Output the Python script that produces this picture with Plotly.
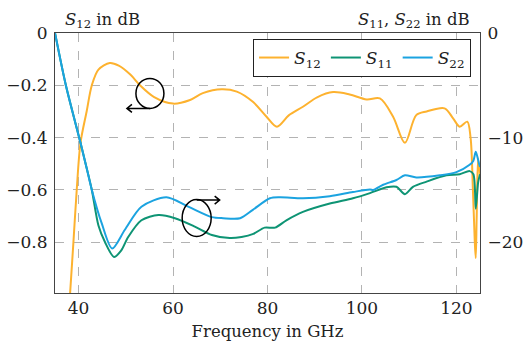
import plotly.graph_objects as go

# ---- data ----
freq_s12 = [38.0, 38.9, 39.6, 40.4, 41.7, 42.8, 44.2, 46.6, 48.5, 51.0, 53.0, 56.0, 60.0, 63.6,
            66.3, 70.3, 73.5, 76.9, 79.8, 82.0, 84.5, 87.5, 90.5, 93.9, 97.4, 101.0, 103.8,
            106.6, 109.1, 111.5, 113.7, 117.5, 119.3, 120.7, 122.3, 123.0, 123.5, 123.9,
            124.1, 124.3, 124.6, 125.0]
s12 = [-1.05, -0.8, -0.6, -0.42, -0.30, -0.20, -0.14, -0.115, -0.125, -0.16, -0.2, -0.245,
       -0.27, -0.256, -0.23, -0.215, -0.224, -0.263, -0.32, -0.358, -0.315, -0.282, -0.246,
       -0.226, -0.235, -0.254, -0.25, -0.32, -0.42, -0.314, -0.30, -0.288, -0.326, -0.358,
       -0.339, -0.40, -0.6, -0.8, -0.86, -0.7, -0.48, -0.55]

freq_s11 = [35.0, 37.3, 40.4, 41.7, 42.8, 44.2, 45.6, 47.5, 49.0, 50.5, 53.3, 56.9, 60.4, 64.6,
            68.2, 72.0, 74.5, 77.0, 79.4, 81.6, 84.0, 87.5, 93.2, 98.1, 101.7, 105.2, 107.3,
            109.1, 110.8, 113.7, 117.9, 120.7, 122.8, 123.6, 124.1, 124.6, 125.0]
s11 = [0.0, -5.0, -10.5, -12.9, -15.0, -18.4, -20.0, -21.4, -20.8, -19.5, -17.9, -17.4, -17.7,
       -18.5, -19.3, -19.6, -19.5, -19.2, -18.6, -18.6, -17.9, -17.1, -16.3, -15.8, -15.3,
       -14.75, -14.7, -15.4, -14.7, -14.2, -13.6, -13.5, -13.2, -13.5, -16.8, -14.3, -13.5]

freq_s22 = [35.0, 37.3, 40.4, 41.7, 42.8, 44.9, 47.1, 49.8, 53.3, 58.6, 63.2, 68.2, 70.6, 74.2,
            76.9, 80.5, 82.6, 87.5, 93.2, 98.1, 101.7, 102.4, 104.5, 107.3, 109.1, 111.5,
            116.5, 120.0, 122.8, 123.6, 124.1, 124.8, 125.0]
s22 = [0.0, -5.0, -10.5, -12.9, -15.0, -18.2, -20.6, -18.8, -16.6, -15.7, -16.6, -17.6, -17.7,
       -17.7, -16.9, -15.8, -15.7, -15.8, -15.6, -15.2, -14.95, -15.0, -14.5, -14.05, -13.6,
       -13.8, -13.6, -13.3, -12.6, -12.2, -11.35, -12.5, -12.8]

x_ticks = [40, 60, 80, 100, 120]
left_ticks = [0, -0.2, -0.4, -0.6, -0.8]
left_labels = ["0", "\u22120.2", "\u22120.4", "\u22120.6", "\u22120.8"]
right_ticks = [0, -10, -20]
right_labels = ["0", "\u221210", "\u221220"]

ORANGE = "#FDB22F"
GREEN = "#0E9474"
BLUE = "#1BA3E0"
FONT = "DejaVu Serif"

fig = go.Figure()
fig.add_trace(go.Scatter(x=freq_s12, y=s12, mode="lines", name="<i>S</i><sub>12</sub>",
                         line=dict(color=ORANGE, width=2, shape="spline", smoothing=0.9)))
fig.add_trace(go.Scatter(x=freq_s11, y=s11, mode="lines", name="<i>S</i><sub>11</sub>", yaxis="y2",
                         line=dict(color=GREEN, width=2, shape="spline", smoothing=0.8)))
fig.add_trace(go.Scatter(x=freq_s22, y=s22, mode="lines", name="<i>S</i><sub>22</sub>", yaxis="y2",
                         line=dict(color=BLUE, width=2, shape="spline", smoothing=0.8)))

grid = dict(showgrid=True, gridcolor="#b3b3b3", griddash="dash", gridwidth=1)
tickfont = dict(family=FONT, size=17, color="#222")

fig.update_layout(
    template="none",
    width=523, height=346,
    margin=dict(l=55, r=43, t=33, b=53, autoexpand=False),
    paper_bgcolor="white", plot_bgcolor="white",
    font=dict(family=FONT, size=16, color="#222"),
    showlegend=True,
    legend=dict(orientation="h", x=0.979, y=0.977, xanchor="right", yanchor="top",
                bordercolor="#222", borderwidth=1, bgcolor="white",
                font=dict(family=FONT, size=17), itemwidth=30, tracegroupgap=0),
    xaxis=dict(range=[35, 125], tickvals=x_ticks, ticks="", showline=True, linecolor="#444",
               mirror=True, linewidth=1, zeroline=False, tickfont=tickfont, automargin=False,
               title=dict(text="Frequency in GHz", standoff=8, font=dict(family=FONT, size=16.5)), **grid),
    yaxis=dict(range=[-0.994, 0], tickvals=left_ticks, ticktext=left_labels, ticks="",
               ticklabelstandoff=3, automargin=False,
               showline=True, linecolor="#444", linewidth=1, zeroline=False, tickfont=tickfont, **grid),
    yaxis2=dict(range=[-24.85, 0], tickvals=right_ticks, ticktext=right_labels, overlaying="y",
                side="right", ticks="", showline=True, linecolor="#444", linewidth=1,
                ticklabelstandoff=3, automargin=False,
                showgrid=False, zeroline=False, tickfont=tickfont),
)

fig.add_annotation(text="<i>S</i><sub>12</sub> in dB", xref="paper", yref="paper",
                   x=0.019, y=1.0, xanchor="left", yanchor="bottom", showarrow=False,
                   font=dict(family=FONT, size=16.5), yshift=0)
fig.add_annotation(text="<i>S</i><sub>11</sub>, <i>S</i><sub>22</sub> in dB", xref="paper", yref="paper",
                   x=0.98, y=1.0, xanchor="right", yanchor="bottom", showarrow=False,
                   font=dict(family=FONT, size=16.5), yshift=0)

# circle + arrow markers (pixel-sized shapes anchored in data coordinates)
def ring(xa, ya, rx, ry):
    fig.add_shape(type="circle", xref="x", yref="y", xsizemode="pixel", ysizemode="pixel",
                  xanchor=xa, yanchor=ya, x0=-rx, x1=rx, y0=-ry, y1=ry,
                  line=dict(color="black", width=1.5))

def arrow(xa, ya, path):
    fig.add_shape(type="path", xref="x", yref="y", xsizemode="pixel", ysizemode="pixel",
                  xanchor=xa, yanchor=ya, path=path, line=dict(color="black", width=1.5))

ring(55.1, -0.231, 14, 15)
arrow(55.1, -0.231, "M 0 -15 L -23 -15 M -18 -11 L -23 -15 L -18 -19")
ring(65.0, -0.7075, 14.5, 18.5)
arrow(65.0, -0.7075, "M 0 18 L 23 18 M 18 22 L 23 18 L 18 14")

fig.write_html("out.html")
